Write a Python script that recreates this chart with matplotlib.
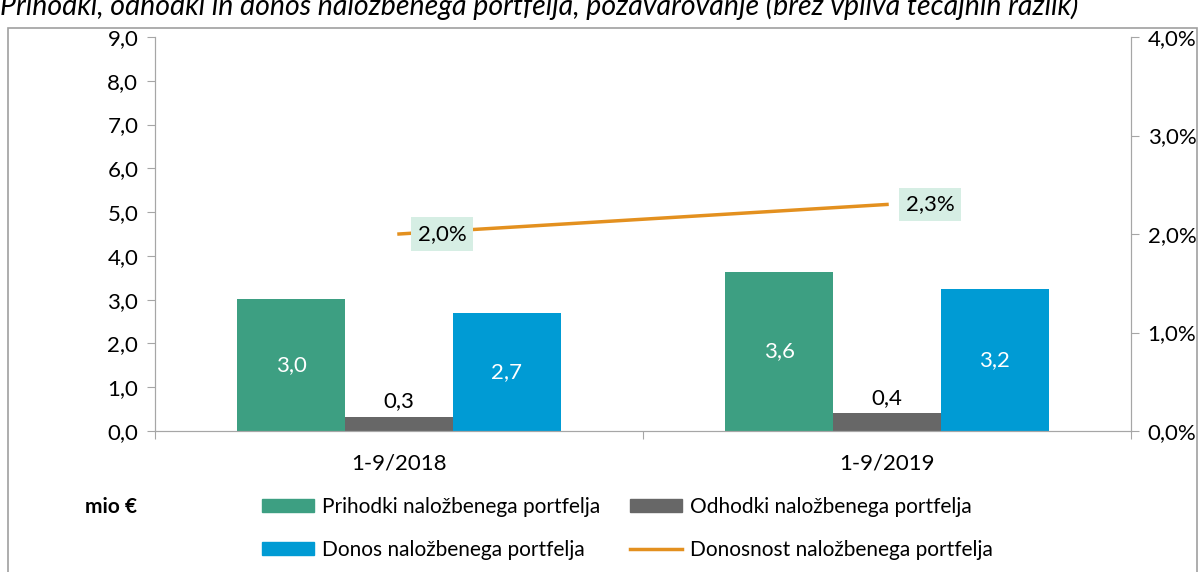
import matplotlib
matplotlib.use('Agg')
import matplotlib.pyplot as plt
from matplotlib.patches import Patch, Rectangle
from matplotlib.lines import Line2D

plt.rcParams['font.family'] = ['Lato', 'DejaVu Sans']

categories = ['1-9/2018', '1-9/2019']
prihodki = [3.02, 3.64]
odhodki = [0.33, 0.40]
donos = [2.69, 3.25]
donosnost = [2.0, 2.3]
lbl_prihodki = ['3,0', '3,6']
lbl_odhodki = ['0,3', '0,4']
lbl_donos = ['2,7', '3,2']
lbl_donosnost = ['2,0%', '2,3%']

c_green = '#3d9f82'
c_gray = '#676767'
c_blue = '#009bd4'
c_orange = '#e3901f'
c_axis = '#a6a6a6'

fig = plt.figure(figsize=(11.98, 5.72), dpi=100)
ax = fig.add_axes([155 / 1198, 1 - 431 / 572, 976 / 1198, 394 / 572])
ax2 = ax.twinx()

x = [0, 1]
w = 0.221
ax.bar([i - w for i in x], prihodki, w, color=c_green)
ax.bar(x, odhodki, w, color=c_gray)
ax.bar([i + w for i in x], donos, w, color=c_blue)

fs = 16
for i in x:
    ax.text(i - w, prihodki[i] / 2, lbl_prihodki[i], ha='center', va='center', color='white', fontsize=fs)
    ax.text(i, odhodki[i] + 0.12, lbl_odhodki[i], ha='center', va='bottom', color='black', fontsize=fs)
    ax.text(i + w, donos[i] / 2, lbl_donos[i], ha='center', va='center', color='white', fontsize=fs)

ax2.plot(x, donosnost, color=c_orange, lw=2.5)
for i in x:
    ax2.annotate(lbl_donosnost[i], (i, donosnost[i]), xytext=(31, 0), textcoords='offset points',
                 ha='center', va='center', fontsize=fs,
                 bbox=dict(boxstyle='square,pad=0.3', fc='#d6eee4', ec='none'))

ax.set_xlim(-0.5, 1.5)
ax.set_ylim(0, 9)
ax2.set_ylim(0, 4)
ax.set_yticks(range(10))
ax.set_yticklabels([f'{v},0' for v in range(10)], fontsize=fs)
ax2.set_yticks(range(5))
ax2.set_yticklabels([f'{v},0%' for v in range(5)], fontsize=fs)

ax.set_xticks([-0.5, 0.5, 1.5])
ax.set_xticklabels([])
ax.set_xticks(x, minor=True)
ax.set_xticklabels(categories, minor=True, fontsize=fs)
ax.tick_params(axis='x', which='minor', length=0, pad=16)
ax.tick_params(axis='x', which='major', length=6, color=c_axis, direction='out')
ax.tick_params(axis='y', length=6, color=c_axis, pad=6)
ax2.tick_params(axis='y', length=6, color=c_axis, pad=6)

for a in (ax, ax2):
    a.spines['top'].set_visible(False)
    for s in ('left', 'right', 'bottom'):
        a.spines[s].set_color(c_axis)

# chart frame
fig.patches.append(Rectangle((8 / 1198, -0.1), 1189 / 1198, 1.1 - 28 / 572, transform=fig.transFigure,
                             fill=False, ec='#a0a0a0', lw=1.2))

fig.text(0.0, 1 - 6 / 572, 'Prihodki, odhodki in donos naložbenega portfelja, pozavarovanje (brez vpliva tečajnih razlik)',
         style='italic', fontsize=20.5, va='center', ha='left')

fig.text(85 / 1198, 1 - 507 / 572, 'mio €', fontsize=15, fontweight='bold', va='center')

handles = [Patch(color=c_green), Patch(color=c_blue), Patch(color=c_gray),
           Line2D([], [], color=c_orange, lw=2.5)]
labels = ['Prihodki naložbenega portfelja', 'Donos naložbenega portfelja',
          'Odhodki naložbenega portfelja', 'Donosnost naložbenega portfelja']
fig.legend(handles, labels, ncol=2, loc='upper left', bbox_to_anchor=(262 / 1198, 1 - 497 / 572),
           frameon=False, fontsize=15, handlelength=2.5, handleheight=0.6, handletextpad=0.4,
           columnspacing=1.4, labelspacing=1.1, borderpad=0, borderaxespad=0)

fig.savefig('out.png', dpi=100)
